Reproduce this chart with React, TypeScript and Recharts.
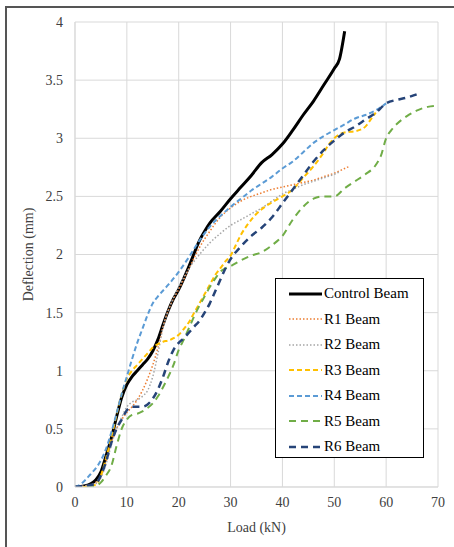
import React from "react";
import { CartesianGrid, Line, LineChart, XAxis, YAxis } from "recharts";

type Pt = { x: number; y: number };

const xTicks = [0, 10, 20, 30, 40, 50, 60, 70];
const yTicks = [0, 0.5, 1, 1.5, 2, 2.5, 3, 3.5, 4];

const controlBeam: Pt[] = [
  [0, 0], [2, 0.01], [4, 0.06], [5, 0.13], [6, 0.27], [7, 0.42], [8, 0.6], [9, 0.77], [10, 0.88], [11, 0.95],
  [12, 1.0], [13, 1.05], [14, 1.1], [15, 1.17], [16, 1.27], [17, 1.4], [18, 1.52], [19, 1.62], [20, 1.7],
  [22, 1.9], [24, 2.12], [25, 2.2], [26, 2.27], [28, 2.37], [30, 2.48], [32, 2.58], [34, 2.68], [36, 2.79],
  [38, 2.86], [40, 2.95], [42, 3.07], [44, 3.2], [46, 3.32], [48, 3.46], [50, 3.6], [51, 3.68], [52, 3.92],
].map(([x, y]) => ({ x, y }));

const r1Beam: Pt[] = [
  [0, 0], [2, 0.01], [4, 0.04], [5, 0.1], [6, 0.22], [7, 0.38], [8, 0.5], [9, 0.58], [10, 0.64], [11, 0.69],
  [12, 0.75], [13, 0.83], [14, 0.93], [15, 1.05], [16, 1.2], [17, 1.38], [18, 1.52], [19, 1.62], [20, 1.7],
  [22, 1.88], [24, 2.06], [26, 2.2], [28, 2.32], [30, 2.4], [32, 2.46], [34, 2.5], [36, 2.53], [38, 2.56],
  [40, 2.58], [42, 2.6], [44, 2.62], [46, 2.64], [48, 2.67], [50, 2.7], [52, 2.74], [53, 2.76],
].map(([x, y]) => ({ x, y }));

const r2Beam: Pt[] = [
  [0, 0], [2, 0.01], [4, 0.03], [5, 0.08], [6, 0.2], [7, 0.36], [8, 0.5], [9, 0.6], [10, 0.69], [11, 0.73],
  [12, 0.75], [13, 0.78], [14, 0.83], [15, 0.95], [16, 1.15], [17, 1.38], [18, 1.52], [19, 1.63], [20, 1.72],
  [22, 1.88], [24, 2.0], [26, 2.1], [28, 2.18], [30, 2.25], [32, 2.3], [34, 2.35], [36, 2.4], [38, 2.46],
  [40, 2.52], [42, 2.56], [44, 2.6], [46, 2.63], [48, 2.66], [50, 2.69], [51, 2.71],
].map(([x, y]) => ({ x, y }));

const r3Beam: Pt[] = [
  [0, 0], [2, 0], [4, 0.02], [5, 0.1], [6, 0.25], [7, 0.42], [8, 0.62], [9, 0.8], [10, 0.93], [11, 1.0],
  [12, 1.05], [13, 1.1], [14, 1.15], [15, 1.2], [16, 1.23], [17, 1.25], [18, 1.26], [19, 1.28], [20, 1.31],
  [21, 1.36], [22, 1.42], [23, 1.5], [24, 1.58], [25, 1.66], [26, 1.74], [27, 1.82], [28, 1.88], [29, 1.94],
  [30, 1.99], [31, 2.08], [32, 2.17], [33, 2.24], [34, 2.3], [35, 2.35], [36, 2.39], [38, 2.45], [40, 2.5],
  [42, 2.56], [44, 2.66], [46, 2.76], [48, 2.88], [49, 2.95], [50, 3.0], [52, 3.05], [54, 3.06], [56, 3.1],
  [57, 3.16], [58, 3.22],
].map(([x, y]) => ({ x, y }));

const r4Beam: Pt[] = [
  [0, 0], [1, 0.02], [2, 0.06], [3, 0.11], [4, 0.16], [5, 0.23], [6, 0.33], [7, 0.47], [8, 0.63], [9, 0.8],
  [10, 0.95], [11, 1.1], [12, 1.24], [13, 1.36], [14, 1.48], [15, 1.58], [16, 1.64], [18, 1.74], [20, 1.85],
  [22, 1.98], [24, 2.12], [26, 2.24], [28, 2.33], [30, 2.41], [32, 2.48], [34, 2.55], [36, 2.61], [38, 2.67],
  [40, 2.74], [42, 2.8], [44, 2.88], [46, 2.96], [48, 3.02], [50, 3.07], [52, 3.12], [54, 3.17], [56, 3.2],
  [58, 3.24], [60, 3.3],
].map(([x, y]) => ({ x, y }));

const r5Beam: Pt[] = [
  [0, 0], [2, 0], [4, 0.01], [5, 0.04], [6, 0.1], [7, 0.18], [8, 0.35], [9, 0.5], [10, 0.58], [11, 0.62],
  [12, 0.63], [13, 0.65], [14, 0.68], [15, 0.72], [16, 0.78], [17, 0.86], [18, 0.95], [19, 1.05], [20, 1.18],
  [21, 1.27], [22, 1.37], [23, 1.47], [24, 1.56], [25, 1.64], [26, 1.72], [27, 1.79], [28, 1.85], [29, 1.88],
  [30, 1.9], [32, 1.95], [34, 1.99], [36, 2.02], [38, 2.08], [40, 2.16], [42, 2.3], [44, 2.41], [46, 2.48],
  [48, 2.5], [50, 2.5], [52, 2.57], [54, 2.63], [56, 2.69], [58, 2.77], [59, 2.85], [60, 3.0], [61, 3.07],
  [62, 3.12], [64, 3.19], [66, 3.24], [68, 3.27], [70, 3.28],
].map(([x, y]) => ({ x, y }));

const r6Beam: Pt[] = [
  [0, 0], [2, 0.01], [4, 0.03], [5, 0.1], [6, 0.22], [7, 0.38], [8, 0.5], [9, 0.58], [10, 0.66], [11, 0.69],
  [12, 0.69], [13, 0.69], [14, 0.71], [15, 0.76], [16, 0.84], [17, 0.95], [18, 1.08], [19, 1.18], [20, 1.24],
  [21, 1.28], [22, 1.33], [23, 1.38], [24, 1.43], [25, 1.5], [26, 1.58], [27, 1.68], [28, 1.78], [29, 1.88],
  [30, 1.96], [32, 2.07], [34, 2.16], [36, 2.23], [38, 2.32], [40, 2.44], [42, 2.56], [44, 2.68], [46, 2.8],
  [48, 2.9], [50, 2.98], [52, 3.05], [54, 3.1], [56, 3.16], [58, 3.22], [60, 3.3], [62, 3.33], [64, 3.35],
  [66, 3.38],
].map(([x, y]) => ({ x, y }));

const series = [
  { name: "Control Beam", data: controlBeam, color: "#000000", width: 3, dash: undefined },
  { name: "R1 Beam", data: r1Beam, color: "#ED7D31", width: 1.5, dash: "1.5 2" },
  { name: "R2 Beam", data: r2Beam, color: "#A5A5A5", width: 1.5, dash: "1.5 2" },
  { name: "R3 Beam", data: r3Beam, color: "#FFC000", width: 2, dash: "5 3" },
  { name: "R4 Beam", data: r4Beam, color: "#5B9BD5", width: 2, dash: "5 3" },
  { name: "R5 Beam", data: r5Beam, color: "#70AD47", width: 2, dash: "7 5" },
  { name: "R6 Beam", data: r6Beam, color: "#264478", width: 2.5, dash: "7 5" },
];

const font = "'Liberation Serif', 'Times New Roman', serif";
const tickStyle = { fill: "#404040", fontSize: 14, fontFamily: font };

function LegendBox() {
  return (
    <div
      style={{
        position: "absolute",
        left: 275,
        top: 278,
        border: "1.5px solid #000",
        background: "#fff",
        width: 149,
        height: 180,
        paddingTop: 2,
        boxSizing: "border-box",
        fontFamily: font,
        fontSize: 15,
        color: "#000",
      }}
    >
      {series.map((s) => (
        <div key={s.name} style={{ display: "flex", alignItems: "center", height: 25.5 }}>
          <svg width={48} height={10} style={{ flexShrink: 0 }}>
            <line x1={13} y1={5} x2={46} y2={5} stroke={s.color} strokeWidth={s.width} strokeDasharray={s.dash} />
          </svg>
          <span>{s.name}</span>
        </div>
      ))}
    </div>
  );
}

export default function App() {
  return (
    <div
      style={{ position: "absolute", left: 0, top: 0, width: 454, height: 547, background: "#fff", fontFamily: font }}
    >
      <style>{`svg text, svg tspan { font-family: 'Liberation Serif', 'Times New Roman', serif !important; }`}</style>
      <div
        style={{
          position: "absolute",
          left: 5,
          top: 6,
          width: 449,
          height: 541,
          borderLeft: "2px solid #555",
          borderTop: "2px solid #555",
        }}
      />
      <LineChart
        width={454}
        height={547}
        margin={{ top: 22, right: 16, bottom: 0, left: 20 }}
        style={{ position: "absolute", left: 0, top: 0 }}
      >
        <CartesianGrid stroke="#d9d9d9" strokeWidth={1} />
        <XAxis
          type="number"
          dataKey="x"
          domain={[0, 70]}
          ticks={xTicks}
          allowDataOverflow
          tickLine={false}
          axisLine={{ stroke: "#d9d9d9" }}
          tick={tickStyle}
          tickMargin={4}
          height={60}
          label={{ value: "Load (kN)", position: "insideBottom", offset: 15, ...tickStyle }}
        />
        <YAxis
          type="number"
          dataKey="y"
          domain={[0, 4]}
          ticks={yTicks}
          allowDataOverflow
          tickLine={false}
          axisLine={{ stroke: "#d9d9d9" }}
          tick={tickStyle}
          tickMargin={6}
          width={55}
          label={{
            value: "Deflection (mm)",
            angle: -90,
            position: "insideLeft",
            offset: 8,
            style: { textAnchor: "middle" },
            ...tickStyle,
          }}
        />
        {series.map((s) => (
          <Line
            key={s.name}
            data={s.data}
            dataKey="y"
            name={s.name}
            type="monotone"
            stroke={s.color}
            strokeWidth={s.width}
            strokeDasharray={s.dash}
            dot={false}
            activeDot={false}
            isAnimationActive={false}
          />
        ))}
      </LineChart>
      <LegendBox />
    </div>
  );
}
